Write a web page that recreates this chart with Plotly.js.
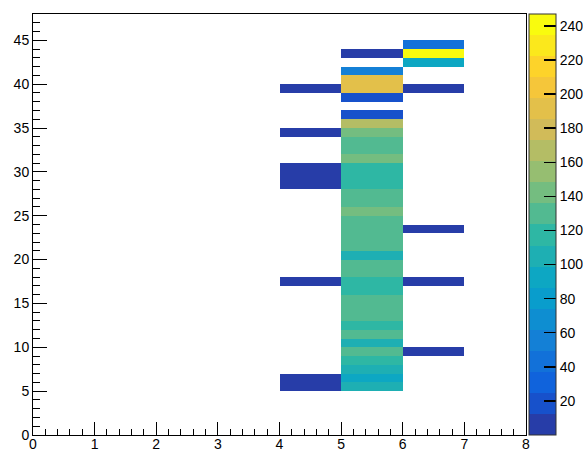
<!DOCTYPE html>
<html>
<head>
<meta charset="utf-8">
<script src="https://cdn.plot.ly/plotly-3.0.1.min.js"></script>
<style>
  html, body { margin: 0; padding: 0; background: #ffffff; }
  #chart { width: 583px; height: 452px; }
</style>
</head>
<body>
<div id="chart"></div>
<script>
// ---- Data (bin content) ----
// x bin [4,5]
const col4Y = [5, 6, 17, 28, 29, 30, 34, 39];
const col4Z = [3, 4, 2, 3, 5, 4, 2, 3];
// x bin [5,6]
const col5Y = [5, 6, 7, 8, 9, 10, 11, 12, 13, 14, 15, 16, 17, 18, 19, 20, 21, 22, 23, 24, 25, 26, 27, 28, 29, 30, 31, 32, 33, 34, 35, 36, 38, 39, 40, 41, 43];
const col5Z = [105, 93, 104, 118, 130, 106, 131, 116, 129, 132, 128, 119, 117, 127, 133, 107, 130, 128, 134, 126, 141, 129, 131, 118, 115, 120, 143, 128, 132, 140, 168, 19, 20, 193, 190, 57, 4];
// x bin [6,7]
const col6Y = [9, 17, 23, 39, 42, 43, 44];
const col6Z = [2, 3, 2, 4, 92, 247, 44];

const nX = 8, nY = 48;
const zMax = 247;
const colorTicks = [20, 40, 60, 80, 100, 120, 140, 160, 180, 200, 220, 240];

// ---- build histogram grid ----
const xCenters = [];
for (let i = 0; i < nX; i++) xCenters.push(i + 0.5);
const yCenters = [];
for (let j = 0; j < nY; j++) yCenters.push(j + 0.5);
const z = [];
for (let j = 0; j < nY; j++) { const row = []; for (let i = 0; i < nX; i++) row.push(null); z.push(row); }
function fill(col, ys, zs) { ys.forEach((y, k) => { z[y][col] = zs[k]; }); }
fill(4, col4Y, col4Z);
fill(5, col5Y, col5Z);
fill(6, col6Y, col6Z);

// ---- ROOT kBird palette, 20 contour levels ----
const st = [0.0, 0.125, 0.25, 0.375, 0.5, 0.625, 0.75, 0.875, 1.0];
const rr = [0.2082, 0.0592, 0.0780, 0.0232, 0.1802, 0.5301, 0.8186, 0.9956, 0.9764];
const gg = [0.1664, 0.3599, 0.5041, 0.6419, 0.7178, 0.7492, 0.7328, 0.7862, 0.9832];
const bb = [0.5293, 0.8684, 0.8385, 0.7914, 0.6425, 0.4662, 0.3499, 0.1968, 0.0539];
function bird(f) {
  let s = 0;
  while (s < st.length - 2 && f > st[s + 1]) s++;
  const t = (f - st[s]) / (st[s + 1] - st[s]);
  const c = a => Math.round(255 * (a[s] + (a[s + 1] - a[s]) * t));
  return 'rgb(' + c(rr) + ',' + c(gg) + ',' + c(bb) + ')';
}
const nLev = 20;
const colorscale = [];
for (let i = 0; i < nLev; i++) {
  const idx = Math.floor((i + 0.99) * 255 / nLev);
  const col = bird(Math.min(1, idx / 254));
  colorscale.push([i / nLev, col]);
  colorscale.push([(i + 1) / nLev, col]);
}

const font = { family: 'Liberation Sans, Arial, sans-serif', size: 14, color: '#000' };

const trace = {
  type: 'heatmap',
  x: xCenters,
  y: yCenters,
  z: z,
  zmin: 0,
  zmax: zMax,
  colorscale: colorscale,
  hoverongaps: false,
  hoverinfo: 'skip',
  colorbar: {
    x: 1.006, xanchor: 'left', xpad: 0,
    y: 0.5, yanchor: 'middle', ypad: 0,
    len: 1, lenmode: 'fraction',
    thickness: 27, thicknessmode: 'pixels',
    outlinewidth: 1, outlinecolor: '#333',
    tickmode: 'array', tickvals: colorTicks,
    ticks: 'inside', ticklen: 12, tickcolor: '#000', tickwidth: 1.5,
    tickfont: font
  }
};

const axisCommon = {
  showgrid: false, zeroline: false,
  showline: true, linecolor: '#000', linewidth: 1, mirror: true,
  ticks: 'inside', tickcolor: '#000', tickwidth: 1,
  tickfont: font
};

const layout = {
  width: 583, height: 452,
  margin: { l: 33, r: 57, t: 14, b: 17, autoexpand: false },
  paper_bgcolor: '#ffffff',
  plot_bgcolor: '#ffffff',
  font: font,
  showlegend: false,
  xaxis: Object.assign({}, axisCommon, {
    range: [0, 8], tickmode: 'linear', tick0: 0, dtick: 1, ticklen: 13,
    ticklabelstandoff: -4,
    minor: { tickmode: 'linear', tick0: 0, dtick: 0.2, ticks: 'inside', ticklen: 6, tickcolor: '#000', showgrid: false }
  }),
  yaxis: Object.assign({}, axisCommon, {
    range: [0, 48], tickmode: 'linear', tick0: 0, dtick: 5, ticklen: 14,
    minor: { tickmode: 'linear', tick0: 0, dtick: 1, ticks: 'inside', ticklen: 7, tickcolor: '#000', showgrid: false }
  })
};

Plotly.newPlot('chart', [trace], layout, { displayModeBar: false, staticPlot: true });
</script>
</body>
</html>
